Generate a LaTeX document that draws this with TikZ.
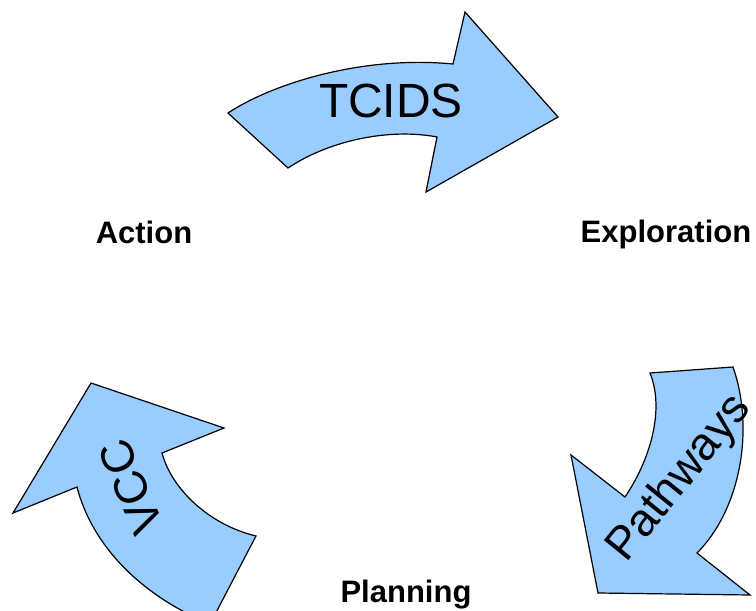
\documentclass[tikz,border=0pt]{standalone}
\usepackage{fontspec}
\setmainfont{Liberation Sans}
\begin{document}
\begin{tikzpicture}[x=1pt,y=-1pt,
  arrowshape/.style={draw=black,fill=arrowblue,line width=1.2pt,line join=miter},
  bigtext/.style={inner sep=0pt,font=\fontsize{48}{54}\selectfont},
  stagelabel/.style={inner sep=0pt,font=\fontsize{31}{36}\selectfont\bfseries}]
\definecolor{arrowblue}{HTML}{99CCFF}
\useasboundingbox (0,0) rectangle (756,611);
\clip (0,0) rectangle (756,611);
% TCIDS arrow
\draw[arrowshape] (228,113) .. controls (270,85) and (360,55) .. (453,64)
  -- (465,12) -- (558,117) -- (426,192) -- (437,137)
  .. controls (390,128) and (330,140) .. (288,168) -- cycle;
\node[bigtext] (tcids) at (391,101) {TCIDS};
% VCC arrow
\draw[arrowshape] (91,383) -- (224,428) -- (162,453)
  .. controls (172,490) and (210,525) .. (256,536)
  -- (210,624)
  .. controls (140,595) and (92,545) .. (77,487)
  -- (13,513) -- cycle;
\node[bigtext,font=\fontsize{46}{52}\selectfont,rotate=113] (vcc) at (131,487) {VCC};
% Pathways arrow
\draw[arrowshape] (650,373) -- (733,367)
  .. controls (755,430) and (740,510) .. (697,553)
  -- (750,595) -- (598,593) -- (571,455) -- (625,497)
  .. controls (650,460) and (665,410) .. (650,373) -- cycle;
\node[bigtext,font=\fontsize{46}{52}\selectfont,rotate=51] (pathways) at (680,479) {Pathways};
% stage labels
\node[stagelabel] (action) at (144,232) {Action};
\node[stagelabel] (exploration) at (666,234) {Exploration};
\node[stagelabel] (planning) at (406,595) {Planning};
\end{tikzpicture}
\end{document}
